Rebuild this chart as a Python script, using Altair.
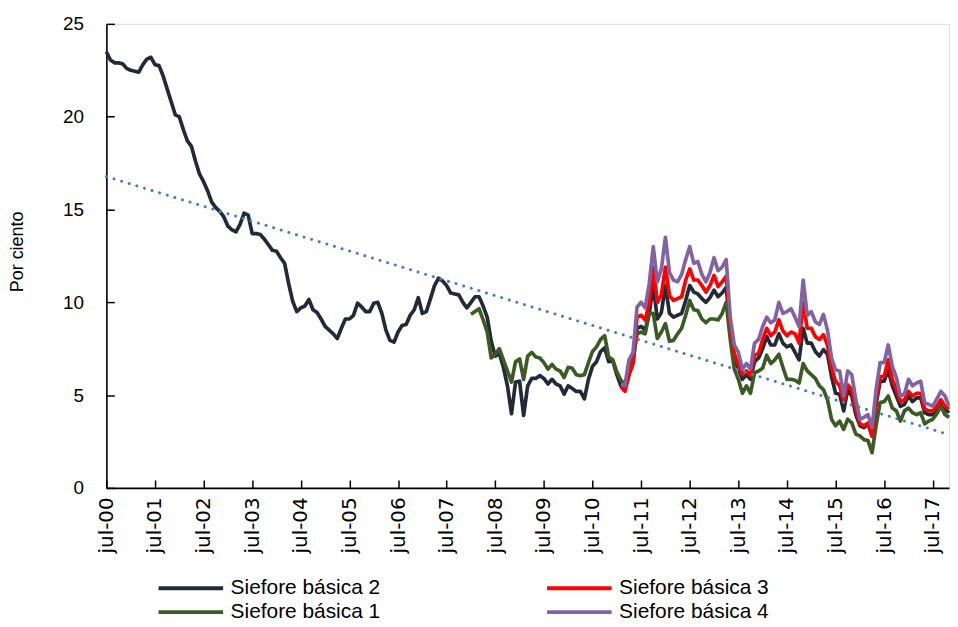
import altair as alt
import pandas as pd

# legend order (filled column by column): col 1 = SB2, SB1 ; col 2 = SB3, SB4
SERIES = ["Siefore básica 2", "Siefore básica 1", "Siefore básica 3", "Siefore básica 4"]
COLORS = ["#222a37", "#3b5b25", "#ff0000", "#8064a2"]
TREND_COLOR = "#4a7dc0"

TICK_MONTHS = [0, 12, 24, 36, 48, 60, 72, 84, 96, 108, 120, 132, 144, 156, 168, 180, 192, 204]
TICK_LABELS = ["jul-00", "jul-01", "jul-02", "jul-03", "jul-04", "jul-05", "jul-06", "jul-07",
               "jul-08", "jul-09", "jul-10", "jul-11", "jul-12", "jul-13", "jul-14", "jul-15",
               "jul-16", "jul-17"]
Y_TICKS = [0, 5, 10, 15, 20, 25]

# monthly values, month index 0 = jul-2000
SB2_START = 0
SB2 = [
    23.5, 23.05, 22.9, 22.9, 22.85, 22.6, 22.5, 22.45, 22.4, 22.8, 23.1, 23.2,
    22.8, 22.75, 22.2, 21.5, 20.8, 20.1, 20.0, 19.3, 18.7, 18.4, 17.6, 16.9,
    16.5, 16.0, 15.4, 15.1, 14.9, 14.6, 14.1, 13.9, 13.8, 14.2, 14.8, 14.7,
    13.7, 13.7, 13.65, 13.4, 13.1, 12.8, 12.75, 12.4, 12.1, 11.0, 10.05, 9.5,
    9.7, 9.8, 10.15, 9.6, 9.45, 9.1, 8.7, 8.5, 8.3, 8.05, 8.6, 9.1,
    9.1, 9.3, 9.95, 9.75, 9.5, 9.5, 9.95, 10.0, 9.4, 8.5, 7.95, 7.85,
    8.4, 8.75, 8.8, 9.3, 9.6, 10.25, 9.4, 9.5, 10.2, 10.9, 11.3, 11.15,
    10.9, 10.5, 10.45, 10.4, 10.0, 9.7, 10.0, 10.3, 10.3, 9.8, 9.2, 7.9,
    7.1, 7.25, 6.5, 5.5, 4.0, 5.7, 5.75, 3.9, 5.5, 5.9, 5.9, 6.05,
    5.9, 5.6, 5.85, 5.6, 5.5, 5.05, 5.5, 5.35, 5.2, 5.2, 4.8, 5.85,
    6.55, 6.8, 7.35, 7.55, 6.8, 6.85, 6.1, 5.5, 5.3, 6.1, 6.7, 8.6,
    8.7, 8.5, 9.4, 10.9, 9.1, 9.45, 10.9, 9.4, 9.2, 9.3, 9.4, 10.1,
    10.9, 10.55, 10.45, 10.2, 10.0, 10.25, 10.65, 10.3, 10.5, 10.8, 8.5, 6.9,
    6.45, 5.85, 6.1, 5.85, 6.8, 7.0, 7.5, 8.15, 7.7, 7.7, 8.3, 7.8,
    7.6, 7.7, 7.3, 6.9, 8.6, 7.8, 7.8, 7.35, 7.1, 7.45, 7.2, 6.0,
    5.1, 5.05, 4.15, 5.3, 4.95, 3.95, 3.35, 3.25, 3.45, 2.8, 4.5, 5.75,
    5.75, 6.35, 5.5, 4.95, 4.4, 4.5, 4.95, 4.65, 4.85, 4.85, 4.05, 3.95,
    3.95, 4.2, 4.6, 4.25, 4.05,
]

SB1_START = 90
SB1 = [
    9.35, 9.5, 9.65, 9.05, 8.4, 7.0,
    7.2, 7.5, 6.9, 6.3, 5.7, 6.8, 6.95, 5.85, 7.1, 7.3, 7.05, 7.0,
    6.75, 6.4, 6.65, 6.4, 6.3, 5.95, 6.5, 6.45, 6.1, 6.05, 6.1, 6.75,
    7.35, 7.6, 8.0, 8.2, 7.05, 6.9, 6.25, 5.8, 5.6, 6.3, 7.0, 8.3,
    8.4, 8.3, 9.4, 9.4, 8.05, 8.4, 8.85, 7.9, 7.95, 8.3, 8.6, 9.3,
    10.1, 9.6, 9.55, 9.1, 8.9, 9.1, 9.1, 9.05, 9.4, 10.0, 8.0, 6.4,
    5.85, 5.1, 5.5, 5.1, 6.2, 6.3, 6.45, 7.15, 6.7, 6.9, 7.2, 6.5,
    5.85, 5.85, 5.8, 5.65, 6.7, 6.3, 6.1, 5.9, 5.5, 5.3, 4.75, 3.7,
    3.35, 3.6, 3.15, 3.7, 3.5, 2.9, 2.8, 2.6, 2.55, 1.9, 3.35, 4.6,
    4.65, 4.95, 4.3, 4.15, 3.6, 4.15, 4.3, 4.05, 3.95, 4.05, 3.45, 3.6,
    3.7, 4.0, 4.4, 3.95, 3.8,
]

SB3_START = 127
SB3 = [
    5.45, 5.2, 6.1, 6.75, 9.2,
    9.3, 9.05, 9.95, 11.9, 10.0, 10.4, 11.9, 10.35, 10.1, 10.2, 10.3, 11.2,
    11.8, 11.2, 11.2, 10.9, 10.55, 10.9, 11.45, 10.85, 11.1, 11.4, 8.85, 7.25,
    6.65, 6.1, 6.3, 6.05, 7.15, 7.25, 8.0, 8.6, 8.2, 8.4, 9.05, 8.45,
    8.2, 8.4, 8.3, 7.8, 10.0, 8.6, 8.6, 8.15, 8.0, 8.25, 7.7, 6.45,
    5.75, 5.5, 4.65, 5.55, 5.3, 4.25, 3.45, 3.35, 3.5, 2.8, 4.75, 6.0,
    6.0, 6.9, 5.85, 5.3, 4.65, 4.75, 5.2, 4.95, 5.1, 5.1, 4.25, 4.15,
    4.15, 4.4, 4.75, 4.4, 4.25,
]

SB4_START = 127
SB4 = [
    5.6, 5.5, 6.9, 7.3, 9.75,
    10.0, 9.7, 11.0, 13.0, 11.1, 11.8, 13.5, 11.6, 11.2, 11.1, 11.5, 12.3,
    13.0, 12.1, 12.2, 11.5, 11.1, 11.6, 12.4, 11.7, 11.9, 12.3, 9.2, 7.7,
    7.3, 6.4, 6.7, 6.4, 7.8, 8.0, 8.7, 9.2, 8.9, 9.05, 10.0, 9.4,
    9.5, 9.65, 9.2, 8.7, 11.2, 9.3, 9.5, 8.95, 8.8, 9.35, 8.5, 7.0,
    6.35, 6.3, 4.95, 6.3, 6.1, 4.75, 3.7, 3.8, 3.95, 3.25, 5.3, 6.75,
    6.75, 7.7, 6.55, 5.95, 4.95, 5.05, 5.85, 5.5, 5.65, 5.75, 4.6, 4.5,
    4.4, 4.8, 5.2, 4.95, 4.4,
]

W, H = 848, 467
SANS = "Liberation Sans, Arial, sans-serif"
WIDE = "DejaVu Sans, Liberation Sans, sans-serif"

# drawing order: SB2, SB1, SB3, SB4
rows = []
for name, start, vals in [("Siefore básica 2", SB2_START, SB2), ("Siefore básica 1", SB1_START, SB1),
                          ("Siefore básica 3", SB3_START, SB3), ("Siefore básica 4", SB4_START, SB4)]:
    for i, v in enumerate(vals):
        rows.append({"serie": name, "mes": start + i, "valor": v})
df = pd.DataFrame(rows)

label_expr = ("[" + ",".join("'%s'" % l for l in TICK_LABELS) + "][indexof(["
              + ",".join(str(m) for m in TICK_MONTHS) + "], datum.value)]")

x_enc = alt.X(
    "mes:Q",
    scale=alt.Scale(domain=[0, 208], nice=False, zero=False),
    axis=alt.Axis(values=TICK_MONTHS, labelExpr=label_expr, labelAngle=270,
                  labelAlign="right", labelBaseline="middle", labelPadding=9,
                  labelFont=WIDE, labelFontSize=20, labelColor="black",
                  labelFlush=False, labelOverlap=False,
                  ticks=False, grid=True, gridColor="black", gridWidth=1.5,
                  gridDash=[8, H - 8], gridDashOffset=8,
                  domainColor="black", domainWidth=1.6, title=None),
)
y_enc = alt.Y(
    "valor:Q",
    scale=alt.Scale(domain=[0, 25], nice=False),
    axis=alt.Axis(values=Y_TICKS, labelPadding=23, labelFont=SANS, labelFontSize=19,
                  labelColor="black", ticks=False, grid=True, gridColor="black",
                  gridWidth=1.5, gridDash=[8, W - 8],
                  domainColor="black", domainWidth=1.6,
                  title="Por ciento", titleFont=SANS, titleFontSize=18,
                  titleFontWeight="normal", titleColor="black", titleAngle=270,
                  titleX=-89, titleY=229, titleAlign="center", titleBaseline="middle"),
)

lines = alt.Chart(df).mark_line(strokeWidth=3.7, strokeJoin="round").encode(
    x=x_enc,
    y=y_enc,
    color=alt.Color(
        "serie:N",
        scale=alt.Scale(domain=SERIES, range=COLORS),
        legend=alt.Legend(orient="none", legendX=73, legendY=556, columns=2, title=None,
                          symbolType="M-3.25,0L3.25,0", symbolSize=400, symbolStrokeWidth=4,
                          labelFont=SANS, labelFontSize=21, labelColor="black",
                          labelOffset=28, columnPadding=159, rowPadding=2, labelLimit=0),
    ),
)

trend = alt.Chart(df).transform_filter(
    alt.datum.serie == "Siefore básica 2"
).transform_regression("mes", "valor").mark_line(
    color=TREND_COLOR, strokeWidth=3, strokeDash=[0.1, 7.9], strokeCap="round"
).encode(x=x_enc, y=y_enc)

chart = alt.layer(lines, trend).properties(
    width=W, height=H,
    autosize=alt.AutoSizeParams(type="none"),
    padding={"left": 99, "top": 14, "right": 1, "bottom": 137},
).configure_view(stroke=None).configure(background="white")

chart.save("out.html", embed_options={"renderer": "svg", "actions": False})
